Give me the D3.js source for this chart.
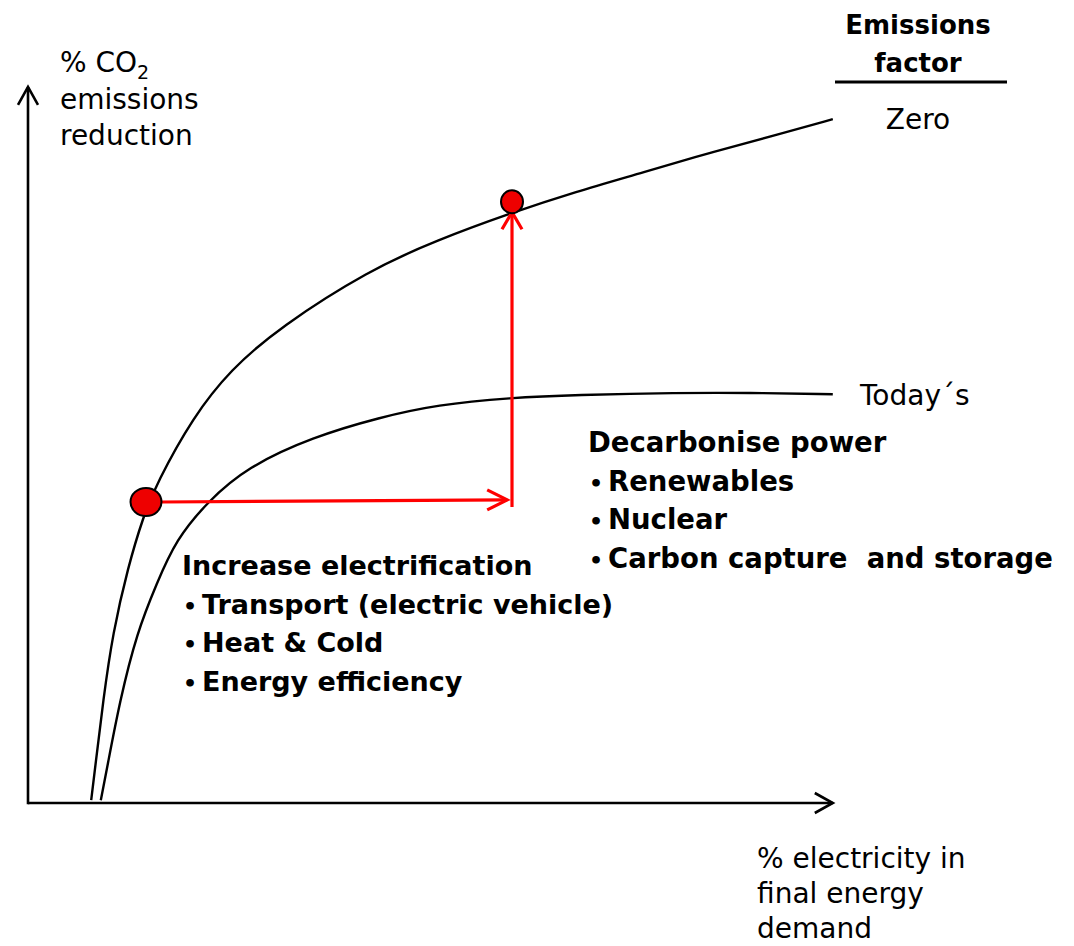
<!DOCTYPE html>
<html>
<head>
<meta charset="utf-8">
<script src="https://cdn.jsdelivr.net/npm/d3@7"></script>
<style>
  html, body { margin: 0; padding: 0; background: #fff; }
  svg { display: block; }
  text { font-family: "DejaVu Sans", sans-serif; fill: #000; white-space: pre; }
</style>
</head>
<body>
<svg id="chart" width="1074" height="946"></svg>
<script>
// ---- data (domain units: x = % electricity, y = % CO2 reduction) ----
const zeroX  = [7.9, 8.4, 9.4, 10.6, 12.5, 14.4, 16.1, 20.6, 25.3, 31.5, 42.6, 51.1, 60.4, 68.4, 77.0, 85.5, 94.1, 100.6];
const zeroY  = [0.4, 5.1, 14.7, 24.3, 33.7, 40.9, 45.7, 55.1, 61.9, 68.0, 76.1, 80.4, 84.3, 87.3, 90.1, 93.0, 95.6, 97.7];
const todayX = [9.1, 9.9, 11.5, 13.6, 16.1, 18.5, 22.4, 27.4, 35.6, 44.0, 51.1, 60.4, 68.4, 81.3, 89.9, 100.6];
const todayY = [0.4, 5.1, 14.7, 24.3, 31.4, 37.6, 43.0, 48.0, 52.3, 55.1, 56.9, 57.9, 58.3, 58.6, 58.6, 58.4];

const pointX = [14.75, 60.5];   // electrification point, decarbonised point
const pointY = [43.0, 85.9];

const arrowX1 = [16.7, 60.5];   // horizontal arrow, vertical arrow
const arrowY1 = [43.0, 42.3];
const arrowX2 = [59.9, 60.5];
const arrowY2 = [43.3, 84.4];

const axisXEnd = 100.6;
const axisYEnd = 102.3;

const curveLabels = ["Zero", "Today\u00b4s"];
const headerLines = ["Emissions", "factor"];
const yLabelLines = ["emissions", "reduction"];
const xLabelLines = ["% electricity in", "final energy", "demand"];
const block1Title = "Increase electrification";
const block1Items = ["Transport (electric vehicle)", "Heat & Cold", "Energy efficiency"];
const block2Title = "Decarbonise power";
const block2Items = ["Renewables", "Nuclear", "Carbon capture  and storage"];

// ---- scales ----
const x = d3.scaleLinear().domain([0, 100]).range([28, 828]);
const y = d3.scaleLinear().domain([0, 100]).range([803, 103]);

const svg = d3.select("#chart");

// axes
const ax = svg.append("g");
ax.append("line").attr("x1", x(0)).attr("y1", y(0)).attr("x2", x(axisXEnd)).attr("y2", y(0))
  .attr("stroke", "#000").attr("stroke-width", 2.6);
ax.append("line").attr("x1", x(0)).attr("y1", y(0) + 1.3).attr("x2", x(0)).attr("y2", y(axisYEnd))
  .attr("stroke", "#000").attr("stroke-width", 2.6);
function chevron(g, tx, ty, dir, len, half, color, w) {
  let p;
  if (dir === "right") p = [[tx - len, ty - half], [tx, ty], [tx - len, ty + half]];
  else p = [[tx - half, ty + len], [tx, ty], [tx + half, ty + len]];
  g.append("path").attr("d", d3.line()(p)).attr("fill", "none")
    .attr("stroke", color).attr("stroke-width", w)
    .attr("stroke-linecap", "butt").attr("stroke-linejoin", "miter");
}
chevron(ax, x(axisXEnd), y(0), "right", 18, 10, "#000", 2.6);
chevron(ax, x(0), y(axisYEnd), "up", 18, 10, "#000", 2.6);

// curves
const line = d3.line().x(d => x(d[0])).y(d => y(d[1])).curve(d3.curveBasis);
const zeroData = zeroX.map((v, i) => [v, zeroY[i]]);
const todayData = todayX.map((v, i) => [v, todayY[i]]);
svg.append("path").attr("d", line(zeroData)).attr("fill", "none").attr("stroke", "#000").attr("stroke-width", 2.4);
svg.append("path").attr("d", line(todayData)).attr("fill", "none").attr("stroke", "#000").attr("stroke-width", 2.4);

// red arrows
const red = "#ff0000";
arrowX1.forEach((v, i) => {
  svg.append("line").attr("x1", x(v)).attr("y1", y(arrowY1[i])).attr("x2", x(arrowX2[i])).attr("y2", y(arrowY2[i]))
    .attr("stroke", red).attr("stroke-width", 3.2);
});
chevron(svg, x(arrowX2[0]), y(arrowY2[0]), "right", 20, 10, red, 3.2);
chevron(svg, x(arrowX2[1]), y(arrowY2[1]), "up", 17, 10, red, 3.2);

// red points
const radii = [[15.5, 14], [11, 11.5]];
pointX.forEach((v, i) => {
  svg.append("ellipse").attr("cx", x(v)).attr("cy", y(pointY[i]))
    .attr("rx", radii[i][0]).attr("ry", radii[i][1])
    .attr("fill", "#ee0000").attr("stroke", "#000").attr("stroke-width", 2);
});

// ---- text ----
const yl = svg.append("text").attr("x", 60).attr("y", 72).attr("font-size", 28);
yl.append("tspan").text("% CO");
yl.append("tspan").text("2").attr("font-size", 19).attr("dy", 7);
yLabelLines.forEach((t, i) => {
  svg.append("text").attr("x", 60).attr("y", 109 + i * 36).attr("font-size", 28).text(t);
});

headerLines.forEach((t, i) => {
  svg.append("text").attr("x", 918).attr("y", 34 + i * 38).attr("text-anchor", "middle")
    .attr("font-size", 26).attr("font-weight", "bold").text(t);
});
svg.append("line").attr("x1", 835).attr("x2", 1007).attr("y1", 82).attr("y2", 82)
  .attr("stroke", "#000").attr("stroke-width", 3);

svg.append("text").attr("x", 918).attr("y", 129).attr("text-anchor", "middle").attr("font-size", 28).text(curveLabels[0]);
svg.append("text").attr("x", 860).attr("y", 405).attr("font-size", 28).text(curveLabels[1]);

xLabelLines.forEach((t, i) => {
  svg.append("text").attr("x", 757).attr("y", 868 + i * 35).attr("font-size", 28).text(t);
});

function block(x0, y0, title, items, size) {
  const g = svg.append("g").attr("font-weight", "bold").attr("font-size", size);
  g.append("text").attr("x", x0).attr("y", y0).text(title);
  items.forEach((t, i) => {
    const tt = g.append("text").attr("y", y0 + (i + 1) * 38.5);
    tt.append("tspan").attr("x", x0 + 1).attr("font-size", 22).text("\u2022");
    tt.append("tspan").attr("x", x0 + 20).text(t);
  });
}
block(182, 575, block1Title, block1Items, 27);
block(588, 452, block2Title, block2Items, 27.5);
</script>
</body>
</html>
